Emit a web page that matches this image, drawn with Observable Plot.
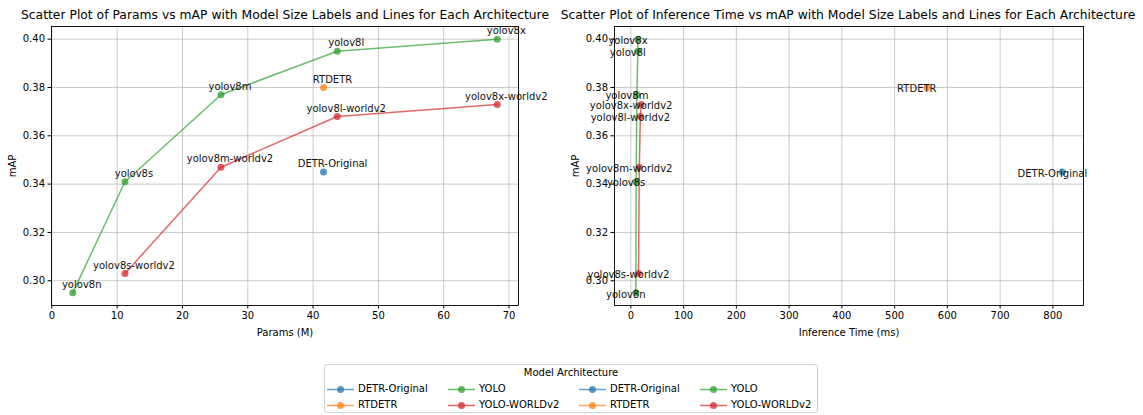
<!DOCTYPE html>
<html><head><meta charset="utf-8">
<script src="https://cdn.jsdelivr.net/npm/d3@7"></script>
<script src="https://cdn.jsdelivr.net/npm/@observablehq/plot@0.6"></script>
<style>
body{margin:0;background:#fff;font-family:"DejaVu Sans",sans-serif;}
#page{position:relative;width:1143px;height:415px;overflow:hidden;background:#fff;}
.title{position:absolute;top:8px;font-size:12.35px;line-height:14px;color:#000;white-space:nowrap;transform:translateX(-50%);}
.chart{position:absolute;top:0;}
#legend{position:absolute;left:324px;top:364px;width:494px;height:49px;border:1px solid #d0d0d0;border-radius:3px;box-sizing:border-box;font-size:10px;color:#000;}
#legend .lt{position:absolute;top:2px;left:0;width:100%;text-align:center;line-height:12px;}
#legend .item{position:absolute;height:12px;line-height:12px;white-space:nowrap;}
#legend .item svg{position:absolute;left:0;top:0;}
#legend .item span{position:absolute;left:31px;top:0;}
</style></head>
<body><div id="page"></div>
<script>
// ---- data ----
const models = ["DETR-Original","RTDETR","yolov8n","yolov8s","yolov8m","yolov8l","yolov8x","yolov8s-worldv2","yolov8m-worldv2","yolov8l-worldv2","yolov8x-worldv2"];
const modelArch = ["DETR-Original","RTDETR","YOLO","YOLO","YOLO","YOLO","YOLO","YOLO-WORLDv2","YOLO-WORLDv2","YOLO-WORLDv2","YOLO-WORLDv2"];
const paramsM = [41.6, 41.6, 3.2, 11.2, 25.9, 43.7, 68.2, 11.2, 25.9, 43.7, 68.2];
const inferenceMs = [818, 561, 9.5, 10.0, 11.5, 13.2, 13.5, 14.5, 16.0, 18.0, 19.5];
const mAP = [0.345, 0.380, 0.295, 0.341, 0.377, 0.395, 0.400, 0.303, 0.347, 0.368, 0.373];
const architectures = ["DETR-Original","RTDETR","YOLO","YOLO-WORLDv2"];
const archColors = ["#1f77b4","#ff7f0e","#2ca02c","#d62728"];
const yTicks = [0.30,0.32,0.34,0.36,0.38,0.40];
const xTicksParams = [0,10,20,30,40,50,60,70];
const xTicksTime = [0,100,200,300,400,500,600,700,800];
const legendOrder = ["DETR-Original","RTDETR","YOLO","YOLO-WORLDv2","DETR-Original","RTDETR","YOLO","YOLO-WORLDv2"];

const rows = models.map((m,i)=>({model:m, arch:modelArch[i], params:paramsM[i], time:inferenceMs[i], map:mAP[i]}));
const page = document.getElementById("page");

function makeChart(opts){
  const {xField, xDomain, xTicks, xLabel, width, left, mLeft, mRight, labelDx, labelDy} = opts;
  const chart = Plot.plot({
    width, height:340,
    marginLeft:mLeft, marginRight:mRight, marginTop:26, marginBottom:35,
    style:{fontFamily:"DejaVu Sans, sans-serif", fontSize:"10px", color:"#000", background:"transparent", overflow:"visible"},
    x:{domain:xDomain, label:null},
    y:{domain:[0.28975,0.40525], label:null},
    color:{domain:architectures, range:archColors},
    marks:[
      Plot.gridX(xTicks,{stroke:"#b0b0b0", strokeOpacity:0.85, strokeWidth:0.8}),
      Plot.gridY(yTicks,{stroke:"#b0b0b0", strokeOpacity:0.85, strokeWidth:0.8}),
      Plot.axisX(xTicks,{tickSize:3.5, tickPadding:3, fontSize:10, label:xLabel, labelAnchor:"center", labelArrow:"none", labelOffset:30}),
      Plot.axisY(yTicks,{tickSize:3.5, tickPadding:3, fontSize:10, tickFormat:d3.format(".2f"), label:"mAP", labelAnchor:"center", labelArrow:"none", labelOffset:43}),
      Plot.line(rows,{x:xField, y:"map", z:"arch", stroke:"arch", strokeOpacity:0.7, strokeWidth:1.5}),
      Plot.dot(rows,{x:xField, y:"map", fill:"arch", fillOpacity:0.75, r:3.5}),
      Plot.text(rows,{x:xField, y:"map", text:"model", fontSize:10, fill:"#111", dx:labelDx, dy:labelDy, textAnchor:"middle"}),
      Plot.frame({stroke:"#000", strokeWidth:0.9})
    ]
  });
  chart.classList.add("chart");
  chart.style.left = left + "px";
  page.appendChild(chart);
}

makeChart({xField:"params", xDomain:[-0.05,71.45], xTicks:xTicksParams, xLabel:"Params (M)", width:560, left:0, mLeft:51, mRight:42, labelDx:9, labelDy:-8});
makeChart({xField:"time", xDomain:[-31,858], xTicks:xTicksTime, xLabel:"Inference Time (ms)", width:583, left:560, mLeft:54, mRight:60, labelDx:-10, labelDy:1.5});

function addTitle(text, cx){
  const d = document.createElement("div");
  d.className = "title"; d.textContent = text; d.style.left = cx + "px";
  page.appendChild(d);
}
addTitle("Scatter Plot of Params vs mAP with Model Size Labels and Lines for Each Architecture", 285);
addTitle("Scatter Plot of Inference Time vs mAP with Model Size Labels and Lines for Each Architecture", 848);

// legend
const leg = document.createElement("div"); leg.id = "legend";
const lt = document.createElement("div"); lt.className = "lt"; lt.textContent = "Model Architecture"; leg.appendChild(lt);
const colX = [2, 123, 254, 375];
const rowY = [18, 34];
legendOrder.forEach((name,i)=>{
  const col = Math.floor(i/2), row = i%2;
  const c = archColors[architectures.indexOf(name)];
  const it = document.createElement("div"); it.className = "item";
  it.style.left = colX[col] + "px"; it.style.top = rowY[row] + "px";
  it.innerHTML = `<svg width="28" height="12"><line x1="0" x2="27" y1="6.5" y2="6.5" stroke="${c}" stroke-opacity="0.7" stroke-width="1.5"/><circle cx="13.5" cy="6.5" r="3.5" fill="${c}" fill-opacity="0.75"/></svg><span>${name}</span>`;
  leg.appendChild(it);
});
page.appendChild(leg);
</script></body></html>
